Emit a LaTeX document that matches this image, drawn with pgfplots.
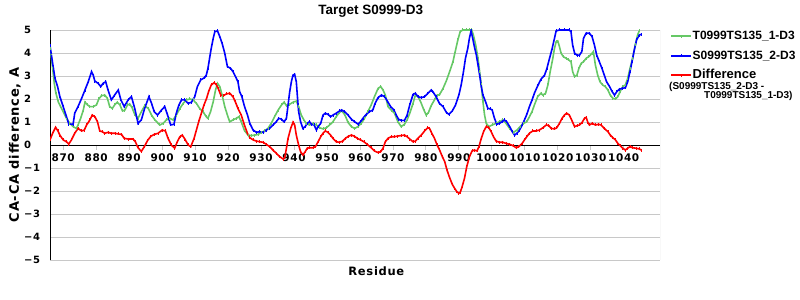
\documentclass[border=0pt]{standalone}
\usepackage{fontspec}
\usepackage{pgfplots}
\pgfplotsset{compat=1.18}
\setmainfont{Liberation Sans}
\newfontfamily\dvb[LetterSpace=6]{DejaVu Sans}
\definecolor{lgreen}{RGB}{102,200,102}
\definecolor{gridgray}{RGB}{200,200,200}
\begin{document}
\begin{tikzpicture}
\path[use as bounding box] (0,0) rectangle (800bp,300bp);
\begin{axis}[
  at={(50bp,40bp)}, anchor=south west,
  scale only axis, width=610bp, height=230bp,
  xmin=866, xmax=1051, ymin=-5, ymax=5,
  axis x line=middle, axis y line=left,
  axis line style={-, black, line width=0.8bp},
  xtick={870,880,...,1040},
  xticklabels={870,880,890,900,910,920,930,940,950,960,970,980,990,1000,1010,1020,1030,1040},
  ytick={-5,-4,...,5},
  yticklabels={−5,−4,−3,−2,−1,0,1,2,3,4,5},
  hide obscured y ticks=false,
  hide obscured x ticks=false,
  tick align=outside,
  major tick length=5bp,
  xtick style={gridgray, line width=0.8bp},
  ytick style={draw=none},
  ymajorgrids, grid style={gridgray, line width=0.9bp},
  xticklabel style={font=\dvb\bfseries\fontsize{10.5bp}{12bp}\selectfont, anchor=north},
  yticklabel style={font=\dvb\bfseries\fontsize{10bp}{12bp}\selectfont, anchor=west, inner sep=0pt, xshift=-21bp},
  title={Target S0999-D3},
  title style={at={(axis description cs:0.526,1)}, anchor=base, yshift=10bp, font=\bfseries\fontsize{13.5bp}{15bp}\selectfont},
  xlabel={Residue},
  every axis x label/.style={at={(axis description cs:0.535,0)}, anchor=base, yshift=-15bp, font=\dvb\bfseries\fontsize{11.5bp}{13bp}\selectfont},
  ylabel={CA-CA difference, A},
  every axis y label/.style={at={(axis description cs:-0.0575,0.5)}, rotate=90, anchor=center, font=\dvb\bfseries\fontsize{13bp}{15bp}\selectfont},
  legend style={at={(axis description cs:1,1)}, anchor=north west, xshift=10bp, yshift=0bp, draw=none, fill=none, inner sep=0pt, row sep=7.5bp,
    font=\bfseries\fontsize{12bp}{14bp}\selectfont, cells={anchor=west},
    nodes={inner sep=0.5bp, text height=9bp, text depth=2bp}},
  legend image code/.code={\draw[#1, line width=2bp] (0bp,0bp) -- (20bp,0bp); \draw[#1, line width=1bp] (10bp,-1.5bp) -- (10bp,1.5bp);},
  every axis plot/.append style={line width=1.6bp, mark=|, mark size=1.5bp, mark options={line width=0.8bp}},
]
\addplot[lgreen] coordinates {
(866.0,4.20) (866.3,3.91) (866.8,3.33) (867.3,2.68) (867.8,2.25) (868.5,1.88) (869.2,1.67) (870.0,1.45) (871.0,1.16) (872.0,0.94) (873.0,0.80) (874.0,0.72) (874.5,0.87) (875.3,1.16) (876.1,1.52) (876.6,1.86) (877.4,1.74) (878.1,1.67) (879.1,1.67) (880.1,1.74) (880.8,2.00) (881.6,2.14) (882.6,2.17) (883.4,2.03) (884.1,1.67) (884.9,1.59) (885.6,1.74) (886.4,1.86) (887.2,1.74) (888.0,1.48) (888.7,1.52) (889.5,1.74) (890.2,1.78) (890.9,1.62) (891.7,1.33) (892.7,1.16) (893.7,1.45) (894.7,1.70) (895.8,1.59) (896.8,1.30) (897.8,1.09) (899.3,0.87) (900.3,0.94) (901.3,1.09) (902.3,1.16) (903.3,1.09) (904.3,1.30) (905.4,1.59) (906.4,1.81) (907.4,1.96) (908.4,2.00) (909.4,1.96) (910.4,1.81) (911.4,1.59) (912.4,1.45) (913.4,1.23) (913.9,1.16) (914.7,1.45) (915.5,1.88) (916.2,2.39) (916.8,2.68) (917.5,2.54) (918.2,2.17) (919.0,1.67) (919.8,1.30) (920.5,1.01) (921.5,1.09) (922.5,1.16) (923.3,1.23) (924.0,1.01) (925.0,0.62) (926.1,0.43) (927.1,0.41) (928.1,0.43) (929.1,0.46) (930.1,0.55) (931.1,0.61) (932.1,0.72) (933.1,0.94) (934.1,1.23) (935.2,1.52) (936.2,1.74) (937.0,1.86) (937.7,1.71) (938.7,1.77) (939.7,1.86) (940.7,1.91) (941.4,1.67) (942.2,1.30) (943.0,1.09) (943.7,0.94) (944.7,0.87) (945.8,0.94) (946.8,0.87) (947.8,0.75) (948.8,0.70) (949.8,0.75) (950.8,0.87) (951.8,1.01) (952.8,1.23) (953.8,1.42) (954.5,1.48) (955.4,1.32) (956.4,0.98) (957.4,0.80) (958.4,0.72) (959.4,0.80) (960.4,0.94) (961.4,1.16) (962.4,1.45) (963.4,1.74) (964.4,2.10) (965.5,2.46) (966.3,2.54) (967.0,2.39) (967.7,2.17) (968.5,1.67) (969.5,1.52) (970.5,1.38) (971.5,1.01) (972.5,0.80) (973.5,0.90) (974.3,1.09) (975.1,1.38) (976.1,1.81) (976.8,2.17) (977.6,2.10) (978.4,1.88) (979.4,1.52) (980.1,1.30) (980.8,1.42) (981.6,1.71) (982.6,1.96) (983.4,2.17) (984.1,2.18) (985.2,2.46) (986.2,2.79) (987.2,3.19) (988.2,3.62) (989.0,4.13) (989.7,4.57) (990.4,4.93) (991.2,5.00) (992.2,5.00) (993.2,5.00) (993.9,5.00) (994.4,4.78) (995.1,4.35) (995.8,3.77) (996.3,3.19) (996.8,2.61) (997.3,1.88) (997.8,1.30) (998.3,0.94) (999.1,0.80) (1000.1,0.87) (1001.3,0.94) (1002.3,1.01) (1003.3,1.09) (1004.3,0.94) (1005.4,0.72) (1006.6,0.55) (1007.6,0.65) (1008.6,0.80) (1009.6,0.94) (1010.6,1.01) (1011.4,1.23) (1012.2,1.45) (1012.9,1.74) (1013.9,2.10) (1014.9,2.25) (1015.5,2.17) (1016.3,2.25) (1017.0,2.61) (1017.7,3.19) (1018.5,3.77) (1019.0,4.20) (1019.5,4.49) (1020.0,4.52) (1020.5,4.28) (1021.0,3.99) (1021.7,3.84) (1022.5,3.77) (1023.3,3.70) (1024.0,3.62) (1024.5,3.19) (1025.1,2.97) (1025.8,3.04) (1026.4,3.33) (1027.1,3.55) (1027.8,3.62) (1028.6,3.77) (1029.4,3.84) (1030.4,3.99) (1030.8,4.06) (1031.4,3.48) (1032.1,3.04) (1032.8,2.75) (1033.6,2.61) (1034.4,2.54) (1035.2,2.39) (1035.9,2.17) (1036.7,2.03) (1037.5,2.00) (1038.2,2.10) (1038.9,2.32) (1039.7,2.54) (1040.5,2.61) (1041.2,2.90) (1041.9,3.33) (1042.7,3.77) (1043.5,4.35) (1044.2,4.78) (1044.7,4.96)
};
\addlegendentry{T0999TS135\_1-D3}
\addplot[blue] coordinates {
(866.0,4.32) (866.5,3.84) (867.5,2.90) (868.3,2.54) (869.0,2.10) (870.0,1.67) (871.0,1.23) (871.7,0.91) (873.0,0.90) (873.5,1.38) (874.5,1.67) (875.6,2.03) (876.6,2.39) (877.6,2.75) (878.6,3.19) (879.1,3.04) (879.6,2.78) (880.6,2.68) (881.4,2.54) (882.1,2.68) (882.9,2.75) (883.6,2.39) (884.6,1.96) (885.6,2.17) (886.7,2.39) (887.5,1.96) (888.5,1.67) (889.7,1.96) (890.7,2.10) (891.7,1.59) (892.7,0.94) (893.7,1.09) (894.7,1.59) (896.0,2.10) (896.8,1.81) (897.6,1.45) (898.6,1.30) (899.8,1.52) (900.8,1.67) (901.6,1.33) (902.6,0.87) (903.6,0.90) (904.3,1.38) (905.1,1.74) (905.9,1.96) (906.9,1.96) (907.9,1.81) (908.9,1.86) (909.9,2.10) (910.7,2.54) (911.7,2.83) (912.9,2.93) (913.4,3.04) (913.9,3.33) (914.4,3.77) (914.9,4.20) (915.5,4.64) (916.0,4.93) (916.8,4.96) (917.5,4.71) (918.2,4.42) (919.0,3.99) (919.8,3.41) (920.8,3.33) (921.5,3.19) (922.5,2.90) (923.0,2.75) (923.5,2.32) (924.2,2.10) (925.0,1.67) (925.9,1.30) (926.6,0.94) (927.6,0.65) (928.6,0.55) (929.6,0.58) (930.6,0.55) (931.6,0.65) (932.6,0.72) (933.6,0.87) (934.6,1.01) (935.4,1.16) (936.2,1.12) (937.0,1.01) (937.7,1.16) (938.2,1.74) (938.7,2.32) (939.2,2.75) (939.7,3.04) (940.2,3.07) (940.7,2.75) (941.0,2.17) (941.4,1.45) (942.0,1.01) (942.7,0.72) (943.4,0.80) (944.0,0.94) (944.7,1.01) (945.3,0.90) (946.1,0.87) (946.8,0.65) (947.3,0.80) (948.1,0.94) (948.8,1.30) (949.5,1.38) (950.3,1.33) (951.1,1.23) (951.8,1.30) (952.8,1.38) (953.8,1.48) (954.5,1.52) (955.4,1.44) (956.4,1.30) (957.4,1.12) (958.4,1.01) (959.4,0.91) (960.2,1.01) (960.9,1.16) (961.9,1.33) (962.9,1.45) (963.9,1.52) (964.6,1.81) (965.5,2.06) (966.5,2.17) (967.5,2.10) (968.3,1.91) (969.3,1.67) (970.3,1.52) (971.0,1.30) (971.7,1.12) (972.5,1.07) (973.5,1.07) (974.3,1.30) (975.1,1.74) (976.1,2.20) (976.8,2.25) (977.6,2.10) (978.6,2.06) (979.6,2.10) (980.6,2.25) (981.6,2.39) (982.1,2.32) (983.1,2.10) (984.1,1.81) (985.2,1.67) (986.2,1.42) (987.0,1.33) (988.0,1.48) (989.0,1.74) (990.0,2.17) (990.7,2.61) (991.4,3.19) (992.0,3.77) (992.7,4.20) (993.2,4.64) (993.7,4.96) (994.2,4.64) (994.7,4.28) (995.3,3.91) (995.8,3.48) (996.3,3.04) (996.8,2.54) (997.3,2.17) (998.1,1.88) (998.8,1.59) (999.5,1.57) (1000.1,1.52) (1000.8,1.16) (1001.5,0.90) (1002.3,0.94) (1003.1,1.01) (1003.8,1.09) (1004.5,1.01) (1005.4,0.80) (1006.2,0.58) (1006.9,0.43) (1007.6,0.51) (1008.4,0.65) (1009.2,0.87) (1009.9,1.09) (1010.6,1.33) (1011.4,1.67) (1012.2,1.96) (1012.9,2.25) (1013.9,2.57) (1014.9,2.86) (1016.0,3.04) (1016.7,3.33) (1017.5,3.77) (1018.3,4.20) (1019.0,4.64) (1019.5,4.96) (1020.5,5.00) (1022.0,5.00) (1023.5,5.00) (1024.0,4.93) (1024.5,4.35) (1025.1,3.99) (1025.8,3.91) (1026.6,3.91) (1027.3,4.06) (1027.8,4.64) (1028.6,4.86) (1029.6,4.86) (1030.4,4.71) (1031.1,4.35) (1031.8,3.91) (1032.6,3.62) (1033.4,3.33) (1034.1,3.04) (1034.8,2.75) (1035.7,2.54) (1036.5,2.32) (1037.2,2.17) (1037.9,2.32) (1038.7,2.43) (1039.5,2.46) (1040.5,2.49) (1041.2,2.75) (1041.9,3.19) (1042.5,3.62) (1043.2,4.13) (1043.9,4.57) (1044.7,4.78) (1045.3,4.81)
};
\addlegendentry{S0999TS135\_2-D3}
\addplot[red] coordinates {
(866.0,0.22) (866.8,0.51) (867.7,0.77) (868.4,0.61) (869.0,0.43) (870.0,0.22) (871.0,0.14) (871.7,0.04) (872.5,0.22) (873.5,0.51) (874.5,0.72) (875.6,0.61) (876.4,0.65) (877.1,0.87) (878.1,1.09) (878.8,1.30) (879.6,1.23) (880.4,1.01) (881.1,0.61) (881.8,0.58) (882.6,0.51) (883.6,0.55) (884.6,0.51) (885.7,0.51) (886.7,0.48) (887.7,0.46) (888.5,0.29) (889.7,0.26) (891.2,0.26) (891.9,0.14) (892.7,-0.12) (893.7,-0.28) (894.7,-0.05) (895.6,0.20) (896.6,0.38) (897.6,0.46) (898.8,0.51) (900.0,0.65) (901.0,0.61) (901.8,0.29) (902.8,0.00) (903.8,-0.14) (904.6,0.14) (905.4,0.36) (906.1,0.43) (906.9,0.26) (907.9,0.00) (908.7,-0.07) (909.7,0.29) (910.4,0.65) (911.1,1.01) (911.9,1.38) (912.7,1.74) (913.5,2.03) (914.1,2.32) (914.9,2.61) (915.8,2.71) (916.5,2.61) (917.0,2.46) (917.8,2.17) (918.5,2.14) (919.5,2.22) (920.5,2.25) (921.5,2.10) (922.2,1.88) (923.0,1.59) (924.0,1.30) (925.0,0.85) (925.9,0.50) (926.6,0.32) (927.6,0.22) (928.6,0.17) (929.6,0.14) (930.6,0.12) (931.6,0.03) (932.6,-0.07) (933.6,-0.22) (934.6,-0.36) (935.7,-0.51) (936.7,-0.61) (937.2,-0.55) (937.7,-0.14) (938.2,0.29) (939.0,0.72) (939.7,0.99) (940.2,0.87) (940.7,0.43) (941.4,0.00) (942.0,-0.29) (942.7,-0.43) (943.4,-0.29) (944.0,-0.14) (944.7,-0.12) (945.8,-0.12) (946.5,-0.07) (947.3,0.14) (948.1,0.36) (948.8,0.51) (949.5,0.61) (950.3,0.55) (951.1,0.43) (951.8,0.29) (952.8,0.14) (953.8,0.12) (954.8,0.17) (955.6,0.29) (956.5,0.38) (957.4,0.43) (958.2,0.39) (959.2,0.29) (960.2,0.22) (961.2,0.14) (962.2,0.03) (963.4,-0.12) (964.4,-0.26) (965.5,-0.33) (966.3,-0.29) (967.0,-0.14) (967.7,0.14) (968.5,0.29) (969.5,0.36) (970.5,0.36) (971.5,0.39) (972.5,0.41) (973.5,0.43) (974.3,0.36) (975.1,0.26) (976.1,0.14) (976.8,0.17) (977.6,0.29) (978.6,0.43) (979.6,0.61) (980.6,0.75) (981.1,0.72) (981.8,0.51) (982.6,0.29) (983.4,0.00) (984.1,-0.20) (984.9,-0.48) (985.7,-0.72) (986.4,-1.09) (987.2,-1.42) (988.0,-1.71) (988.7,-1.88) (989.4,-2.03) (990.0,-2.10) (990.4,-2.06) (991.0,-1.81) (991.7,-1.45) (992.4,-0.94) (993.2,-0.51) (994.0,-0.26) (994.7,-0.22) (995.5,-0.26) (996.1,-0.07) (996.8,0.29) (997.5,0.58) (998.3,0.80) (999.1,0.75) (999.8,0.58) (1000.5,0.36) (1001.3,0.17) (1002.3,0.12) (1003.3,0.12) (1004.3,0.07) (1005.4,0.03) (1006.4,-0.03) (1007.4,-0.12) (1008.2,-0.07) (1009.2,0.07) (1009.9,0.22) (1010.6,0.36) (1011.4,0.51) (1012.4,0.61) (1013.4,0.61) (1014.4,0.65) (1015.5,0.75) (1016.5,0.87) (1017.3,0.84) (1018.0,0.72) (1019.0,0.70) (1019.7,0.75) (1020.5,0.94) (1021.3,1.16) (1022.0,1.30) (1022.7,1.38) (1023.5,1.30) (1024.2,1.09) (1025.1,0.80) (1025.8,0.84) (1026.6,0.87) (1027.4,0.99) (1028.1,1.16) (1028.6,1.20) (1029.1,0.99) (1029.6,0.87) (1030.4,0.94) (1031.4,0.87) (1032.4,0.90) (1033.1,0.87) (1034.1,0.72) (1035.2,0.58) (1035.9,0.43) (1036.7,0.32) (1037.5,0.22) (1038.2,0.07) (1038.9,-0.03) (1039.7,-0.14) (1040.5,-0.22) (1041.2,-0.14) (1041.9,-0.07) (1042.7,-0.12) (1043.7,-0.14) (1044.7,-0.17) (1045.3,-0.22)
};
\addlegendentry{\fontsize{13bp}{15bp}\selectfont Difference}
\draw[gridgray, line width=0.9bp] (rel axis cs:1,0) -- (rel axis cs:1,1);
\end{axis}
\node[anchor=west, inner sep=0pt, font=\bfseries\fontsize{10bp}{12bp}\selectfont] at (669bp,213.5bp) {(S0999TS135\_2-D3 -};
\node[anchor=west, inner sep=0pt, font=\bfseries\fontsize{10bp}{12bp}\selectfont] at (704bp,204bp) {T0999TS135\_1-D3)};
\end{tikzpicture}
\end{document}
